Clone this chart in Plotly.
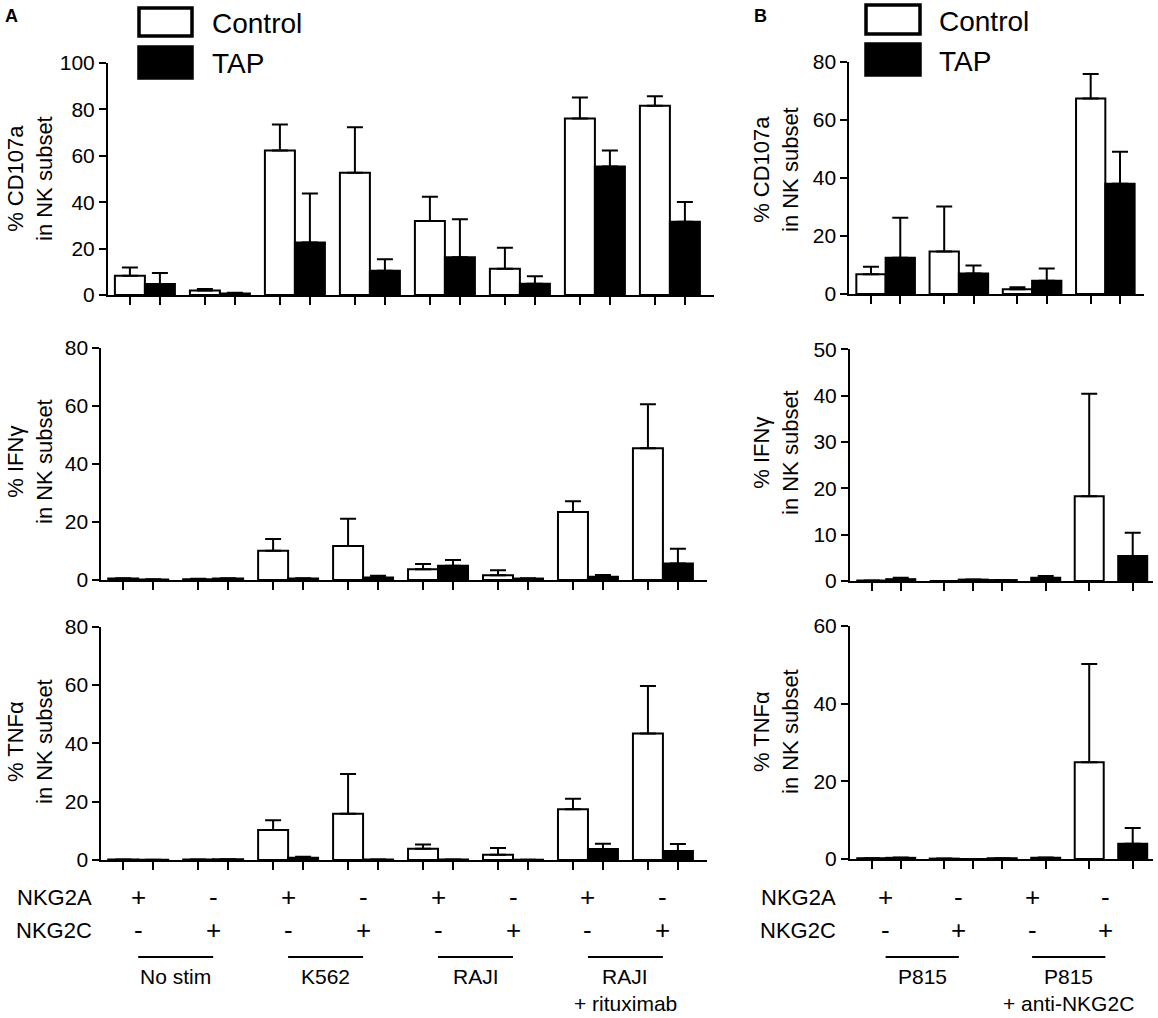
import plotly.graph_objects as go

W, H = 1158, 1018

# ---- values (mean and upper error) ----
# panel A: 8 NK subsets x stimulation, order:
# No stim (2A+/2C-, 2A-/2C+), K562 (..), RAJI (..), RAJI + rituximab (..)
a_cd107a_ctrl = [8.3, 1.9, 62.3, 52.7, 31.9, 11.3, 76.1, 81.6]
a_cd107a_ctrl_err = [3.6, 0.7, 11.2, 19.6, 10.4, 9.1, 9.0, 4.1]
a_cd107a_tap = [4.7, 0.7, 22.6, 10.4, 16.3, 4.9, 55.4, 31.6]
a_cd107a_tap_err = [4.8, 0.3, 21.2, 5.0, 16.3, 3.2, 6.9, 8.5]

a_ifng_ctrl = [0.5, 0.3, 10.1, 11.7, 3.7, 1.6, 23.4, 45.4]
a_ifng_ctrl_err = [0.1, 0.1, 4.0, 9.4, 1.8, 1.8, 3.7, 15.1]
a_ifng_tap = [0.2, 0.5, 0.5, 0.9, 4.9, 0.5, 1.1, 5.7]
a_ifng_tap_err = [0.1, 0.1, 0.1, 0.6, 2.0, 0.1, 0.6, 5.1]

a_tnfa_ctrl = [0.2, 0.2, 10.3, 15.9, 3.9, 1.8, 17.4, 43.4]
a_tnfa_ctrl_err = [0.0, 0.0, 3.3, 13.6, 1.4, 2.3, 3.6, 16.3]
a_tnfa_tap = [0.1, 0.3, 0.8, 0.2, 0.2, 0.1, 3.8, 3.1]
a_tnfa_tap_err = [0.0, 0.0, 0.3, 0.0, 0.0, 0.0, 1.8, 2.4]

# panel B: P815 (2A+/2C-, 2A-/2C+), P815 + anti-NKG2C (..)
b_cd107a_ctrl = [6.8, 14.6, 1.6, 67.3]
b_cd107a_ctrl_err = [2.6, 15.5, 0.7, 8.5]
b_cd107a_tap = [12.5, 7.1, 4.6, 38.0]
b_cd107a_tap_err = [13.8, 2.7, 4.2, 11.0]

b_ifng_ctrl = [0.1, 0.0, 0.2, 18.3]
b_ifng_ctrl_err = [0.0, 0.0, 0.0, 22.1]
b_ifng_tap = [0.4, 0.3, 0.7, 5.4]
b_ifng_tap_err = [0.3, 0.0, 0.4, 5.0]

b_tnfa_ctrl = [0.2, 0.1, 0.2, 24.9]
b_tnfa_ctrl_err = [0.0, 0.0, 0.0, 25.3]
b_tnfa_tap = [0.3, 0.0, 0.3, 3.9]
b_tnfa_tap_err = [0.1, 0.0, 0.1, 4.1]

nkg2a_a = ["+", "-", "+", "-", "+", "-", "+", "-"]
nkg2c_a = ["-", "+", "-", "+", "-", "+", "-", "+"]
groups_a = [["No stim"], ["K562"], ["RAJI"], ["RAJI", "+ rituximab"]]
nkg2a_b = ["+", "-", "+", "-"]
nkg2c_b = ["-", "+", "-", "+"]
groups_b = [["P815"], ["P815", "+ anti-NKG2C"]]

FONT = "Liberation Sans, Arial, Helvetica, sans-serif"


def px(x):
    return x / W


def py(y):
    return 1 - y / H


# bar slots (axis units); pairs touch, gap between pairs
def slots_reg(n):
    return [2.5 * i for i in range(n)], [2.5 * i + 1 for i in range(n)]


slots_b_low = ([0, 2.5, 4.5, 7.5], [1, 3.5, 6, 9])

# ctrl, ctrl_err, tap, tap_err, slots, x domain px, y domain px, x range, ymax, dtick, title, title pos
panels = [
    (a_cd107a_ctrl, a_cd107a_ctrl_err, a_cd107a_tap, a_cd107a_tap_err, slots_reg(8),
     (108, 714), (295, 63), (-0.73, 19.47), 100, 20, "% CD107a<br>in NK subset", 30, 179),
    (a_ifng_ctrl, a_ifng_ctrl_err, a_ifng_tap, a_ifng_tap_err, slots_reg(8),
     (101.3, 707), (580, 347.7), (-0.73, 19.47), 80, 20, "% IFNγ<br>in NK subset", 30, 462),
    (a_tnfa_ctrl, a_tnfa_ctrl_err, a_tnfa_tap, a_tnfa_tap_err, slots_reg(8),
     (101.3, 707), (860, 626.7), (-0.73, 19.47), 80, 20, "% TNFα<br>in NK subset", 30, 742),
    (b_cd107a_ctrl, b_cd107a_ctrl_err, b_cd107a_tap, b_cd107a_tap_err, slots_reg(4),
     (849.3, 1144), (294, 61.7), (-0.74, 9.32), 80, 20, "% CD107a<br>in NK subset", 776, 170),
    (b_ifng_ctrl, b_ifng_ctrl_err, b_ifng_tap, b_ifng_tap_err, slots_b_low,
     (850, 1153.3), (581, 349.3), (-0.75, 9.71), 50, 10, "% IFNγ<br>in NK subset", 776, 453),
    (b_tnfa_ctrl, b_tnfa_ctrl_err, b_tnfa_tap, b_tnfa_tap_err, slots_b_low,
     (850, 1153.3), (859, 626), (-0.75, 9.71), 60, 20, "% TNFα<br>in NK subset", 776, 732),
]

fig = go.Figure()
layout = dict(
    template="none",
    width=W, height=H, margin=dict(l=0, r=0, t=0, b=0, pad=0, autoexpand=False),
    paper_bgcolor="white", plot_bgcolor="white", showlegend=False,
    font=dict(family=FONT, color="black"), barmode="overlay",
)
annotations = []
shapes = []


def note(text, x, y, size, xanchor="center", xref="paper", angle=0):
    annotations.append(dict(
        text=text, x=x, y=py(y), xref=xref, yref="paper", xanchor=xanchor, yanchor="middle",
        textangle=angle, showarrow=False, font=dict(size=size, family=FONT, color="black"),
    ))


for k, (ctrl, ctrl_err, tap, tap_err, slots, xd, yd, xr, ymax, dtick, title, tx, ty) in enumerate(panels, start=1):
    xa, ya = f"x{k}", f"y{k}"
    for vals, errs, xs, fill in ((ctrl, ctrl_err, slots[0], "white"), (tap, tap_err, slots[1], "black")):
        fig.add_trace(go.Bar(
            x=xs, y=vals, width=1, xaxis=xa, yaxis=ya,
            marker=dict(color=fill, line=dict(color="black", width=2)),
            error_y=dict(type="data", symmetric=False, array=errs, arrayminus=[0] * len(errs),
                         color="black", thickness=2, width=8),
        ))
    sfx = "" if k == 1 else str(k)
    layout["xaxis" + sfx] = dict(
        domain=[px(xd[0]), px(xd[1])], anchor=ya, range=list(xr), fixedrange=True, automargin=False,
        showline=True, linecolor="black", linewidth=2, showgrid=False, zeroline=False,
        ticks="outside", ticklen=8, tickwidth=2, tickcolor="black",
        tickvals=slots[0] + slots[1], showticklabels=False,
    )
    layout["yaxis" + sfx] = dict(
        domain=[py(yd[0]), py(yd[1])], anchor=xa, range=[0, ymax], dtick=dtick, automargin=False,
        showline=True, linecolor="black", linewidth=2, showgrid=False, zeroline=False,
        ticks="outside", ticklen=7, tickwidth=2, tickcolor="black",
        tickfont=dict(size=21, family=FONT, color="black"), fixedrange=True,
    )
    note(title, px(tx), ty, 22, angle=-90)

# row labels under the bottom panels
row1_y, row2_y, line_y, grp_y, grp2_y = 897, 930, 957, 976, 1003


def label_rows(xref, centers, top, bottom, groups, name_x):
    note("NKG2A", px(name_x), row1_y, 22, xanchor="right")
    note("NKG2C", px(name_x), row2_y, 22, xanchor="right")
    for c, s1, s2 in zip(centers, top, bottom):
        note(s1, c, row1_y, 26, xref=xref)
        note(s2, c, row2_y, 26, xref=xref)
    for g, lines in enumerate(groups):
        x0, x1 = centers[2 * g], centers[2 * g + 1]
        shapes.append(dict(type="line", xref=xref, yref="paper", x0=x0, x1=x1,
                           y0=py(line_y), y1=py(line_y), line=dict(color="black", width=2)))
        for text, yy in zip(lines, (grp_y, grp2_y)):
            note(text, (x0 + x1) / 2, yy, 21, xref=xref)


label_rows("x3", [2.5 * i + 0.5 for i in range(8)], nkg2a_a, nkg2c_a, groups_a, 94)
label_rows("x4", [2.5 * i + 0.5 for i in range(4)], nkg2a_b, nkg2c_b, groups_b, 838)

# legend boxes + panel letters
for bx0, bx1, tx, (c0, c1), (t0, t1), cy, ty in (
    (139, 192, 210, (8, 36), (47, 78), 23, 63),
    (866, 920, 937, (5, 34), (44, 75), 22, 61),
):
    shapes.append(dict(type="rect", xref="paper", yref="paper", x0=px(bx0), x1=px(bx1),
                       y0=py(c1), y1=py(c0), line=dict(color="black", width=3.5), fillcolor="white"))
    shapes.append(dict(type="rect", xref="paper", yref="paper", x0=px(bx0), x1=px(bx1),
                       y0=py(t1), y1=py(t0), line=dict(color="black", width=3.5), fillcolor="black"))
    note("Control", px(tx), cy, 28, xanchor="left")
    note("TAP", px(tx), ty, 28, xanchor="left")

note("<b>A</b>", px(3), 16, 18, xanchor="left")
note("<b>B</b>", px(752), 16, 18, xanchor="left")

layout["annotations"] = annotations
layout["shapes"] = shapes
fig.update_layout(**layout)
# drop the default 8px page margin so the figure sits flush in the window
fig.write_html("out.html", config={"displayModeBar": False},
               post_script="document.body.style.margin = '0px';")
